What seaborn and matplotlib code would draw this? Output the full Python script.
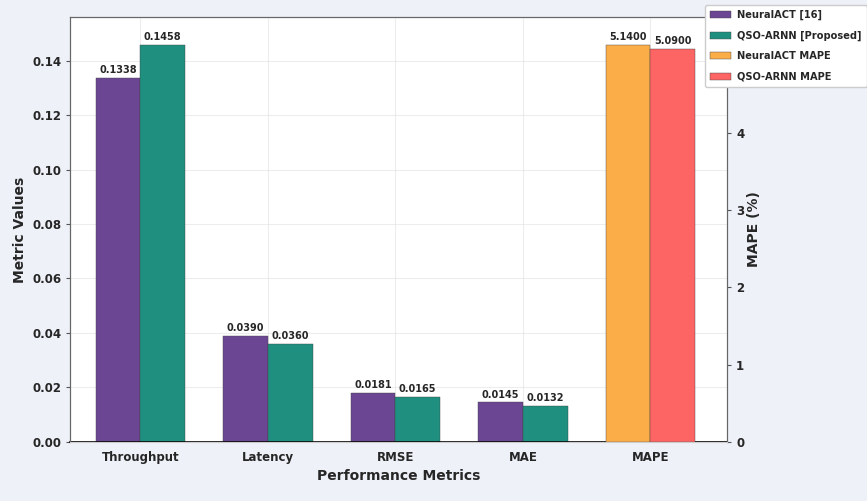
import pandas as pd
import matplotlib.pyplot as plt
import seaborn as sns

metrics = ["Throughput", "Latency", "RMSE", "MAE", "MAPE"]
neuralact = [0.1338, 0.0390, 0.0181, 0.0145]
qso_arnn = [0.1458, 0.0360, 0.0165, 0.0132]
neuralact_mape = 5.14
qso_arnn_mape = 5.09

left_models = ["NeuralACT [16]", "QSO-ARNN [Proposed]"]
right_models = ["NeuralACT MAPE", "QSO-ARNN MAPE"]
left_colors = ["#6a4693", "#1f8f80"]
right_colors = ["#fbad48", "#fc6563"]

df_left = pd.DataFrame({
    "Metric": metrics[:4] * 2,
    "Value": neuralact + qso_arnn,
    "Model": [left_models[0]] * 4 + [left_models[1]] * 4,
})
df_right = pd.DataFrame({
    "Metric": ["MAPE", "MAPE"],
    "Value": [neuralact_mape, qso_arnn_mape],
    "Model": right_models,
})

sns.set_style("whitegrid")
fig = plt.figure(figsize=(8.67, 5.01), dpi=100, facecolor="#eef1f8")
ax = fig.add_axes([0.081, 0.118, 0.7575, 0.848])
ax2 = ax.twinx()

sns.barplot(data=df_left, x="Metric", y="Value", hue="Model", order=metrics,
            hue_order=left_models, palette=left_colors, ax=ax, width=0.7,
            saturation=1, edgecolor="#444444", linewidth=0.3, legend=False)
sns.barplot(data=df_right, x="Metric", y="Value", hue="Model", order=metrics,
            hue_order=right_models, palette=right_colors, ax=ax2, width=0.7,
            saturation=1, edgecolor="#444444", linewidth=0.3, legend=False)

for c in ax.containers:
    ax.bar_label(c, fmt="%.4f", fontsize=7, fontweight="bold", padding=2)
for c in ax2.containers:
    ax2.bar_label(c, fmt="%.4f", fontsize=7, fontweight="bold", padding=2)

ax.set_ylim(0, max(qso_arnn) * 1.07)
ax2.set_ylim(0, neuralact_mape * 1.07)
ax2.set_yticks([0, 1, 2, 3, 4])  # the 5 tick sits under the legend anyway
ax.set_xlim(-0.55, 4.6)

ax.set_xlabel("Performance Metrics", fontsize=10, fontweight="bold")
ax.set_ylabel("Metric Values", fontsize=10, fontweight="bold")
ax2.set_ylabel("MAPE (%)", fontsize=10, fontweight="bold", labelpad=2)
for t in ax.get_xticklabels() + ax.get_yticklabels() + ax2.get_yticklabels():
    t.set_fontweight("bold")
    t.set_fontsize(8.5)
ax.tick_params(axis="both", length=3, color="#555555")
ax2.tick_params(axis="y", length=3, color="#555555")

ax.grid(True, color="#dddddd", alpha=0.5, linewidth=0.8)
ax2.grid(False)
for s in ["left", "right", "top"]:
    ax.spines[s].set_color("#666666")
    ax2.spines[s].set_color("#666666")
ax.spines["bottom"].set_color("black")
ax.spines["bottom"].set_linewidth(1.2)

handles = ax.containers[:] + ax2.containers[:]
labels = left_models + right_models
leg = ax2.legend(handles, labels, loc="upper left", bbox_to_anchor=(0.966, 1.028),
                 fontsize=7.1, frameon=True, framealpha=1.0, borderaxespad=0,
                 handlelength=2.2, labelspacing=1.05, borderpad=0.5,
                 handletextpad=0.6)
for t in leg.get_texts():
    t.set_fontweight("bold")
leg.set_zorder(10)

fig.savefig("out.png", dpi=100, facecolor=fig.get_facecolor())
